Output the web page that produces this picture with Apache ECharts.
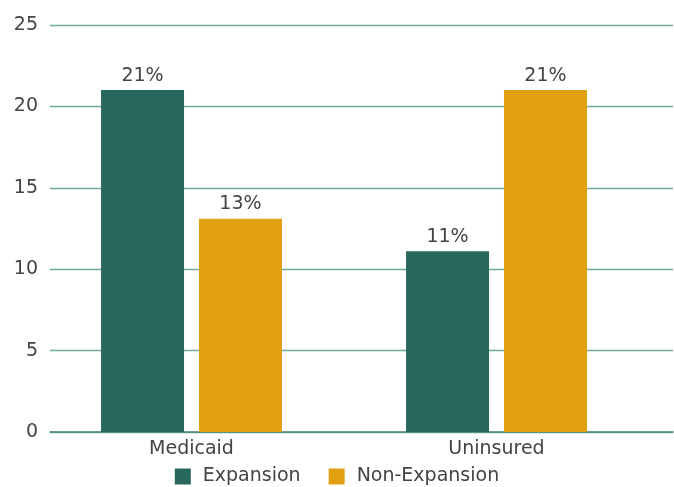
<!DOCTYPE html>
<html><head><meta charset="utf-8">
<script src="https://cdn.jsdelivr.net/npm/echarts@6/dist/echarts.min.js"></script>
<style>html,body{margin:0;padding:0;background:#fff}#c{width:674px;height:487px}</style>
</head><body><div id="c"></div>
<script>
const categories = ['Medicaid', 'Uninsured'];
const seriesNames = ['Expansion', 'Non-Expansion'];
const expansion = [21.0, 11.1];
const nonExpansion = [13.1, 21.0];
const yTicks = [0, 5, 10, 15, 20, 25];

const font = '"DejaVu Sans", "Liberation Sans", Arial, sans-serif';
const fs = 19;
const chart = echarts.init(document.getElementById('c'));
const labelCfg = {show: true, position: 'top', distance: 5, color: '#444', fontSize: fs, fontFamily: font,
  formatter: p => Math.round(p.value) + '%'};
chart.setOption({
  animation: false,
  textStyle: {fontFamily: font},
  grid: [
    {left: 50, right: 1, top: 25, bottom: 55},
    {left: 39, right: 25, top: 25, bottom: 55}
  ],
  legend: {
    data: seriesNames, top: 462, left: 'center', itemWidth: 16, itemHeight: 16, itemGap: 28,
    icon: 'rect', textStyle: {fontSize: fs, color: '#444', fontFamily: font, padding: [0, 0, 0, 7]}
  },
  xAxis: [
    {type: 'category', gridIndex: 0, data: categories, axisLabel: {show: false}, axisTick: {show: false},
     axisLine: {lineStyle: {color: '#4a8878', width: 1.5}}},
    {type: 'category', gridIndex: 1, data: categories, axisTick: {show: false}, axisLine: {show: false},
     axisLabel: {color: '#444', fontSize: fs, margin: 8, fontFamily: font}}
  ],
  yAxis: [
    {type: 'value', gridIndex: 0, min: yTicks[0], max: yTicks[yTicks.length - 1], interval: 5,
     axisLine: {show: false}, axisTick: {show: false},
     axisLabel: {color: '#444', fontSize: fs, margin: 12, fontFamily: font},
     splitLine: {lineStyle: {color: '#72a99b', width: 1.4}}},
    {type: 'value', gridIndex: 1, min: yTicks[0], max: yTicks[yTicks.length - 1], interval: 5,
     show: false, splitLine: {show: false}}
  ],
  series: [
    {name: seriesNames[0], type: 'bar', xAxisIndex: 1, yAxisIndex: 1, data: expansion, barWidth: 83, barGap: '18%',
     itemStyle: {color: '#29695d'}, label: labelCfg},
    {name: seriesNames[1], type: 'bar', xAxisIndex: 1, yAxisIndex: 1, data: nonExpansion, barWidth: 83, barGap: '18%',
     itemStyle: {color: '#e0a012'}, label: labelCfg}
  ]
});
</script></body></html>
